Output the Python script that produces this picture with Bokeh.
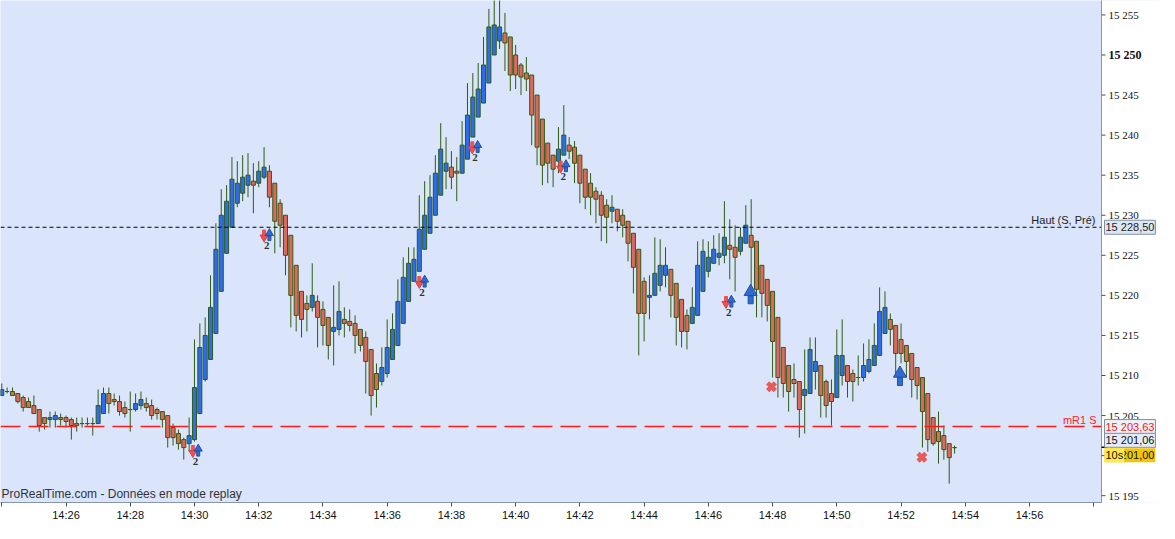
import pandas as pd
from bokeh.plotting import figure
from bokeh.models import Range1d, FixedTicker, CustomJSTickFormatter, Label, ColumnDataSource
from bokeh.embed import file_html
from bokeh.resources import INLINE

# 10 second bars, replay session
start = "2023-06-01 14:24:00"
opens = [15207.5, 15208.0, 15208.0, 15207.75, 15207.25, 15206.75, 15206.25, 15205.75, 15204.75, 15204.5,
         15204.5, 15204.75, 15204.75, 15204.5, 15204.0, 15204.0, 15204.0, 15204.0, 15204.0, 15205.25,
         15207.75, 15207.0, 15206.75, 15206.0, 15205.75, 15205.75, 15206.25, 15206.5, 15206.25, 15205.75,
         15205.5, 15205.0, 15203.5, 15202.75, 15202.0, 15201.5, 15202.0, 15205.25, 15209.5, 15212.0,
         15215.25, 15220.5, 15225.25, 15228.5, 15231.5, 15232.75, 15233.75, 15234.25, 15234.0, 15234.75,
         15235.5, 15234.0, 15231.5, 15230.0, 15227.5, 15223.75, 15220.5, 15219.0, 15218.5, 15219.25,
         15218.25, 15217.25, 15215.5, 15215.75, 15217.0, 15216.75, 15216.5, 15215.75, 15214.75, 15213.25,
         15210.25, 15209.25, 15210.25, 15212.0, 15213.75, 15216.5, 15219.25, 15221.75, 15223.0, 15225.75,
         15227.75, 15230.0, 15232.5, 15235.5, 15236.0, 15235.5, 15235.25, 15237.0, 15239.75, 15242.25,
         15244.0, 15246.5, 15250.0, 15251.75, 15252.75, 15252.25, 15250.0, 15248.75, 15247.75, 15247.5,
         15245.0, 15242.0, 15239.0, 15237.5, 15236.75, 15237.5, 15238.75, 15238.5, 15237.5, 15235.75,
         15234.0, 15233.0, 15232.5, 15231.25, 15230.5, 15230.75, 15230.0, 15229.25, 15227.75, 15225.75,
         15221.75, 15219.75, 15220.0, 15221.25, 15222.5, 15223.25, 15221.5, 15219.5, 15217.5, 15216.5,
         15217.5, 15220.5, 15223.0, 15224.0, 15224.75, 15225.0, 15226.25, 15226.0, 15225.5, 15226.5,
         15227.5, 15226.75, 15223.75, 15222.0, 15220.5, 15217.25, 15213.5, 15211.25, 15209.5, 15209.25,
         15207.5, 15207.75, 15210.5, 15211.25, 15209.25, 15207.75, 15207.25, 15210.0, 15211.25, 15210.25,
         15209.75, 15209.75, 15210.5, 15211.25, 15212.5, 15215.25, 15217.0, 15216.25, 15214.5, 15213.75,
         15212.75, 15211.0, 15209.75, 15207.75, 15204.75, 15203.0, 15202.5, 15201.5, 15201.0]
highs = [15209.0, 15208.5, 15208.5, 15207.75, 15207.5, 15207.25, 15207.5, 15205.75, 15204.75, 15205.5,
         15205.5, 15205.25, 15205.0, 15204.75, 15204.75, 15204.75, 15204.75, 15204.75, 15208.25, 15208.5,
         15208.5, 15207.75, 15207.5, 15206.75, 15208.0, 15207.75, 15208.0, 15207.25, 15207.0, 15206.0,
         15205.5, 15205.0, 15204.0, 15203.25, 15202.25, 15204.75, 15214.5, 15216.5, 15217.25, 15222.5,
         15229.0, 15233.25, 15233.75, 15237.25, 15236.75, 15237.5, 15237.75, 15236.5, 15236.75, 15238.5,
         15236.25, 15234.0, 15232.0, 15230.0, 15227.5, 15223.75, 15220.5, 15220.0, 15224.0, 15220.0,
         15219.25, 15217.25, 15221.25, 15221.75, 15218.5, 15218.25, 15217.5, 15215.75, 15215.5, 15213.25,
         15211.5, 15213.5, 15217.0, 15217.75, 15222.0, 15224.75, 15226.0, 15226.0, 15232.5, 15234.25,
         15235.0, 15237.5, 15241.5, 15239.75, 15238.0, 15237.25, 15241.75, 15246.5, 15247.75, 15249.0,
         15252.25, 15255.75, 15257.5, 15257.25, 15255.25, 15252.25, 15251.25, 15249.0, 15249.75, 15247.5,
         15245.0, 15242.0, 15239.0, 15237.5, 15241.0, 15243.75, 15239.75, 15239.25, 15237.5, 15235.75,
         15235.25, 15233.5, 15233.0, 15232.0, 15232.5, 15230.75, 15230.75, 15229.25, 15227.75, 15225.75,
         15222.25, 15222.5, 15227.25, 15227.0, 15226.0, 15223.25, 15221.5, 15219.5, 15218.25, 15221.0,
         15226.75, 15227.0, 15226.75, 15227.5, 15227.75, 15231.75, 15229.5, 15228.75, 15228.5, 15231.25,
         15232.0, 15226.75, 15223.75, 15222.0, 15220.5, 15217.25, 15213.5, 15211.25, 15211.5, 15209.25,
         15213.25, 15214.75, 15214.75, 15211.25, 15209.5, 15209.5, 15215.75, 15217.0, 15211.25, 15210.75,
         15212.5, 15214.0, 15214.5, 15216.5, 15221.0, 15220.5, 15217.75, 15216.25, 15216.5, 15213.75,
         15212.75, 15211.0, 15209.75, 15207.75, 15204.75, 15205.5, 15203.75, 15201.5, 15201.25]
lows = [15207.5, 15207.75, 15207.5, 15206.5, 15205.5, 15206.0, 15205.25, 15203.0, 15203.25, 15203.5,
        15203.5, 15203.75, 15203.5, 15202.0, 15203.0, 15203.5, 15203.75, 15202.5, 15204.0, 15205.25,
        15205.25, 15206.25, 15205.0, 15204.75, 15203.0, 15205.5, 15205.75, 15205.5, 15204.5, 15204.5,
        15203.5, 15201.0, 15201.25, 15200.75, 15199.5, 15200.5, 15201.75, 15205.25, 15209.25, 15212.0,
        15215.25, 15220.5, 15225.25, 15228.5, 15231.0, 15231.75, 15232.25, 15230.25, 15233.5, 15234.5,
        15231.0, 15225.25, 15226.0, 15222.5, 15216.0, 15215.5, 15214.75, 15215.5, 15218.0, 15213.5,
        15213.75, 15212.0, 15211.25, 15215.0, 15214.75, 15215.5, 15212.75, 15213.0, 15207.75, 15205.0,
        15206.0, 15208.75, 15209.75, 15212.0, 15213.75, 15216.5, 15219.25, 15221.75, 15223.0, 15225.75,
        15227.75, 15230.0, 15232.5, 15233.25, 15233.25, 15231.75, 15235.25, 15237.0, 15239.75, 15242.25,
        15244.0, 15246.5, 15250.0, 15250.75, 15248.0, 15245.5, 15245.75, 15245.0, 15245.5, 15238.75,
        15236.25, 15233.75, 15234.0, 15233.5, 15235.25, 15237.5, 15237.0, 15234.0, 15231.5, 15230.75,
        15230.0, 15229.0, 15226.75, 15226.5, 15229.0, 15228.0, 15227.25, 15224.25, 15220.25, 15212.5,
        15214.25, 15217.0, 15220.0, 15220.5, 15221.0, 15217.25, 15213.75, 15213.5, 15213.25, 15216.5,
        15217.5, 15220.5, 15222.25, 15224.0, 15223.75, 15224.0, 15222.0, 15220.5, 15225.0, 15226.5,
        15221.25, 15217.25, 15217.25, 15216.75, 15209.75, 15207.25, 15207.25, 15205.5, 15207.25, 15202.25,
        15202.75, 15207.75, 15208.25, 15204.75, 15204.75, 15203.75, 15207.25, 15208.75, 15207.25, 15206.75,
        15208.75, 15209.25, 15210.25, 15211.25, 15212.5, 15215.25, 15213.75, 15210.0, 15211.5, 15209.75,
        15207.25, 15207.0, 15201.0, 15200.5, 15201.25, 15199.0, 15199.5, 15196.5, 15200.25]
closes = [15208.25, 15208.0, 15207.5, 15206.75, 15206.0, 15206.0, 15205.25, 15203.75, 15204.0, 15204.75,
          15205.0, 15204.5, 15204.25, 15203.75, 15203.75, 15204.0, 15204.0, 15204.0, 15206.25, 15207.75,
          15206.5, 15206.75, 15205.5, 15205.25, 15205.75, 15206.5, 15207.0, 15206.0, 15205.0, 15205.25,
          15204.5, 15202.25, 15202.25, 15201.5, 15201.0, 15202.5, 15208.5, 15213.5, 15215.0, 15218.5,
          15225.75, 15230.0, 15231.75, 15234.5, 15234.0, 15234.75, 15235.0, 15233.75, 15235.5, 15236.0,
          15232.25, 15229.25, 15228.75, 15225.0, 15220.0, 15217.5, 15217.0, 15218.25, 15220.0, 15217.25,
          15216.25, 15213.75, 15216.0, 15218.0, 15216.5, 15216.25, 15215.0, 15213.75, 15211.75, 15207.5,
          15208.25, 15211.0, 15213.5, 15215.75, 15219.25, 15222.25, 15224.0, 15224.5, 15228.25, 15230.0,
          15232.25, 15235.25, 15238.25, 15236.5, 15234.75, 15235.25, 15238.75, 15242.5, 15244.75, 15245.75,
          15248.75, 15253.5, 15253.75, 15253.5, 15251.5, 15247.5, 15247.5, 15247.25, 15247.0, 15242.5,
          15238.5, 15236.25, 15236.5, 15235.75, 15238.25, 15240.0, 15238.0, 15236.5, 15234.0, 15232.25,
          15232.25, 15232.0, 15230.0, 15229.75, 15231.0, 15229.25, 15228.75, 15226.5, 15223.5, 15217.75,
          15217.75, 15220.0, 15222.75, 15223.75, 15223.75, 15220.0, 15217.25, 15215.5, 15215.5, 15218.5,
          15223.75, 15225.5, 15224.75, 15225.75, 15225.25, 15227.25, 15225.75, 15224.75, 15227.25, 15228.75,
          15226.0, 15220.75, 15220.25, 15218.75, 15214.25, 15209.75, 15209.0, 15208.0, 15209.0, 15205.75,
          15208.25, 15213.25, 15211.75, 15207.5, 15206.25, 15206.75, 15212.5, 15212.5, 15209.25, 15209.25,
          15209.75, 15211.25, 15212.0, 15213.75, 15218.0, 15218.5, 15215.75, 15212.75, 15212.75, 15211.75,
          15209.5, 15208.75, 15205.5, 15202.0, 15201.5, 15201.75, 15200.75, 15199.75, 15201.0]

tick_labels = ["14:24", "14:26", "14:28", "14:30", "14:32", "14:34", "14:36", "14:38", "14:40",
               "14:42", "14:44", "14:46", "14:48", "14:50", "14:52", "14:54", "14:56", "14:58"]
price_ticks = [15195, 15200, 15205, 15210, 15215, 15220, 15225, 15230, 15235, 15240, 15245, 15255]
bold_tick = 15250

# signal pairs (red down + blue up, labelled "2")
sig_times = ["14:30:02", "14:32:15", "14:37:05", "14:38:44", "14:41:29", "14:46:38"]
sig_prices = [15200.6, 15227.5, 15221.7, 15238.5, 15236.1, 15219.2]
# large buy arrows and exit crosses
buy_times = ["14:47:19", "14:51:58"]
buy_prices = [15220.0, 15209.8]
exit_times = ["14:47:58", "14:52:39"]
exit_prices = [15208.6, 15199.8]

haut_level = 15228.50
mr1_level = 15203.63
last_price = 15201.06

day = start[:10]
T = lambda s: pd.Timestamp(day + " " + s)
times = pd.date_range(start, periods=len(opens), freq="10s")
up = [c > o for o, c in zip(opens, closes)]

src = ColumnDataSource(dict(
    t=times, h=highs, l=lows,
    top=[max(o, c) for o, c in zip(opens, closes)],
    bot=[min(o, c) for o, c in zip(opens, closes)],
    col=["#2c6cf2" if u else "#e0675e" for u in up],
))

W, H = 1159, 523
CW = 1101                      # pixel width of the chart area, the price scale sits right of it
x0 = T("14:23:57.6")
x_chart_end = T("14:58:14.5")
x_end = x0 + (x_chart_end - x0) * (W / CW)
y0, y1 = 15194.15, 15256.8

p = figure(width=W, height=H, x_axis_type="datetime", y_axis_location=None,
           output_backend="svg", toolbar_location=None,
           x_range=Range1d(x0, x_end), y_range=Range1d(y0, y1),
           min_border_left=0, min_border_top=0, min_border_right=0, min_border_bottom=0)
p.background_fill_color = "#dae5fc"
p.border_fill_color = "white"
p.outline_line_color = None
p.grid.visible = False

green = "#2f5c12"
p.segment("t", "h", "t", "l", source=src, line_color=green, line_width=1)
p.vbar(x="t", top="top", bottom="bot", width=7500, source=src,
       fill_color="col", line_color=green, line_width=1)

p.segment(x0, haut_level, x_chart_end, haut_level, line_color="black", line_dash="4 3", line_width=1)
p.segment(x0, mr1_level, x_chart_end, mr1_level, line_color="#ff1a1a", line_dash="20 8",
          line_width=1.6)

# signal arrows
st = pd.to_datetime([day + " " + s for s in sig_times])
red_t = st - pd.Timedelta(seconds=5)
blue_t = st + pd.Timedelta(seconds=5)
p.rect(red_t, [v + 0.35 for v in sig_prices], width=3, height=5, width_units="screen",
       height_units="screen", fill_color="#f05050", line_color="#f05050")
p.scatter(red_t, [v - 0.25 for v in sig_prices], marker="inverted_triangle", size=8,
          fill_color="#f05050", line_color="#d84040")
p.rect(blue_t, [v - 0.35 for v in sig_prices], width=3, height=5, width_units="screen",
       height_units="screen", fill_color="#2f6bd3", line_color="#24519e")
p.scatter(blue_t, [v + 0.25 for v in sig_prices], marker="triangle", size=8,
          fill_color="#2f6bd3", line_color="#24519e")
p.text(st, sig_prices, text=["2"] * len(st), text_align="center", text_baseline="top",
       y_offset=7, text_font_size="11px", text_font_style="bold", text_color="#333333",
       text_font="Liberation Sans")

bt = pd.to_datetime([day + " " + s for s in buy_times])
p.rect(bt, [v - 0.55 for v in buy_prices], width=5, height=8, width_units="screen",
       height_units="screen", fill_color="#2f6bd3", line_color="#24519e")
p.scatter(bt, [v + 0.45 for v in buy_prices], marker="triangle", size=13,
          fill_color="#2f6bd3", line_color="#24519e")

et = pd.to_datetime([day + " " + s for s in exit_times])
p.scatter(et, exit_prices, marker="x", size=11, line_width=4.5, line_color="#e85a5a")

# price scale panel on the right
fnt = "Liberation Sans"
p.quad(left=x_chart_end, right=x_end, bottom=y0 - 5, top=y1 + 5, fill_color="white", line_color=None)
p.segment(x_chart_end, y0 - 5, x_chart_end, y1 + 5, line_color="#8796aa", line_width=1)
all_ticks = price_ticks + [bold_tick]
p.ray([x_chart_end] * len(all_ticks), all_ticks, length=4, length_units="screen", angle=0,
      line_color="#44505e", line_width=1)
p.ray([x_chart_end], [last_price], length=5, length_units="screen", angle=0,
      line_color="black", line_width=1.5)
p.text([x_chart_end] * len(price_ticks), price_ticks,
       text=[f"{v:,}".replace(",", " ") for v in price_ticks], x_offset=7,
       text_baseline="middle", text_font=fnt, text_font_size="11px", text_color="#111111")
p.text([x_chart_end], [bold_tick], text=[f"{bold_tick:,}".replace(",", " ")], x_offset=7,
       text_baseline="middle", text_font=fnt, text_font_size="12px", text_font_style="bold",
       text_color="#111111")

# x axis
xax = p.xaxis[0]
xax.bounds = (x0, x_chart_end)
xax.ticker = FixedTicker(ticks=[T(s).value / 1e6 for s in tick_labels])
xax.formatter = CustomJSTickFormatter(code="""
const d = new Date(tick);
const s = String(d.getUTCHours()).padStart(2, "0") + ":" + String(d.getUTCMinutes()).padStart(2, "0");
return (s == "14:24" || s == "14:58") ? "" : s;
""")
xax.axis_line_color = "#8796aa"
xax.major_tick_line_color = "#44505e"
xax.major_tick_out = 4
xax.major_tick_in = 0
xax.minor_tick_line_color = None
xax.major_label_text_font = fnt
xax.major_label_text_font_size = "11px"
xax.major_label_text_color = "#111111"
xax.major_label_standoff = 2

# level labels and price boxes
bx = CW + 3
p.add_layout(Label(x=CW - 6, y=haut_level, x_units="screen", text="Haut (S, Pré)",
                   text_font=fnt, text_font_size="11px", text_align="right",
                   text_baseline="bottom", y_offset=1, text_color="#222222"))
p.add_layout(Label(x=CW - 5, y=mr1_level, x_units="screen", text="mR1 S", text_font=fnt,
                   text_font_size="11px", text_align="right", text_baseline="bottom",
                   y_offset=1, text_color="#ff2222"))
box = dict(x_units="screen", text_font=fnt, text_font_size="11px", text_baseline="middle",
           padding=1)
p.add_layout(Label(x=bx, y=haut_level, text="15 228,50", text_color="#222222",
                   background_fill_color="#dde6f3", border_line_color="#7f90a6", **box))
p.add_layout(Label(x=bx, y=mr1_level, text="15 203,63", text_color="#ee2020",
                   background_fill_color="#eef1f7", border_line_color="#7f90a6", **box))
p.add_layout(Label(x=bx, y=last_price + 0.85, text="15 201,06", text_color="#111111",
                   background_fill_color="#e4ebf6", border_line_color="#7f90a6", **box))
p.add_layout(Label(x=bx, y=last_price - 1.0, text="15 201,00", text_color="#111111",
                   background_fill_color="#f3c600", **box))
p.add_layout(Label(x=bx, y=last_price - 1.0, text="10s", text_color="#111111",
                   background_fill_color="#ffe94d", **box))
p.add_layout(Label(x=1, y=2, x_units="screen", y_units="screen",
                   text="ProRealTime.com - Données en mode replay", text_font=fnt,
                   text_font_size="12px", text_color="#333333"))

open("out.html", "w").write(file_html(p, INLINE))
